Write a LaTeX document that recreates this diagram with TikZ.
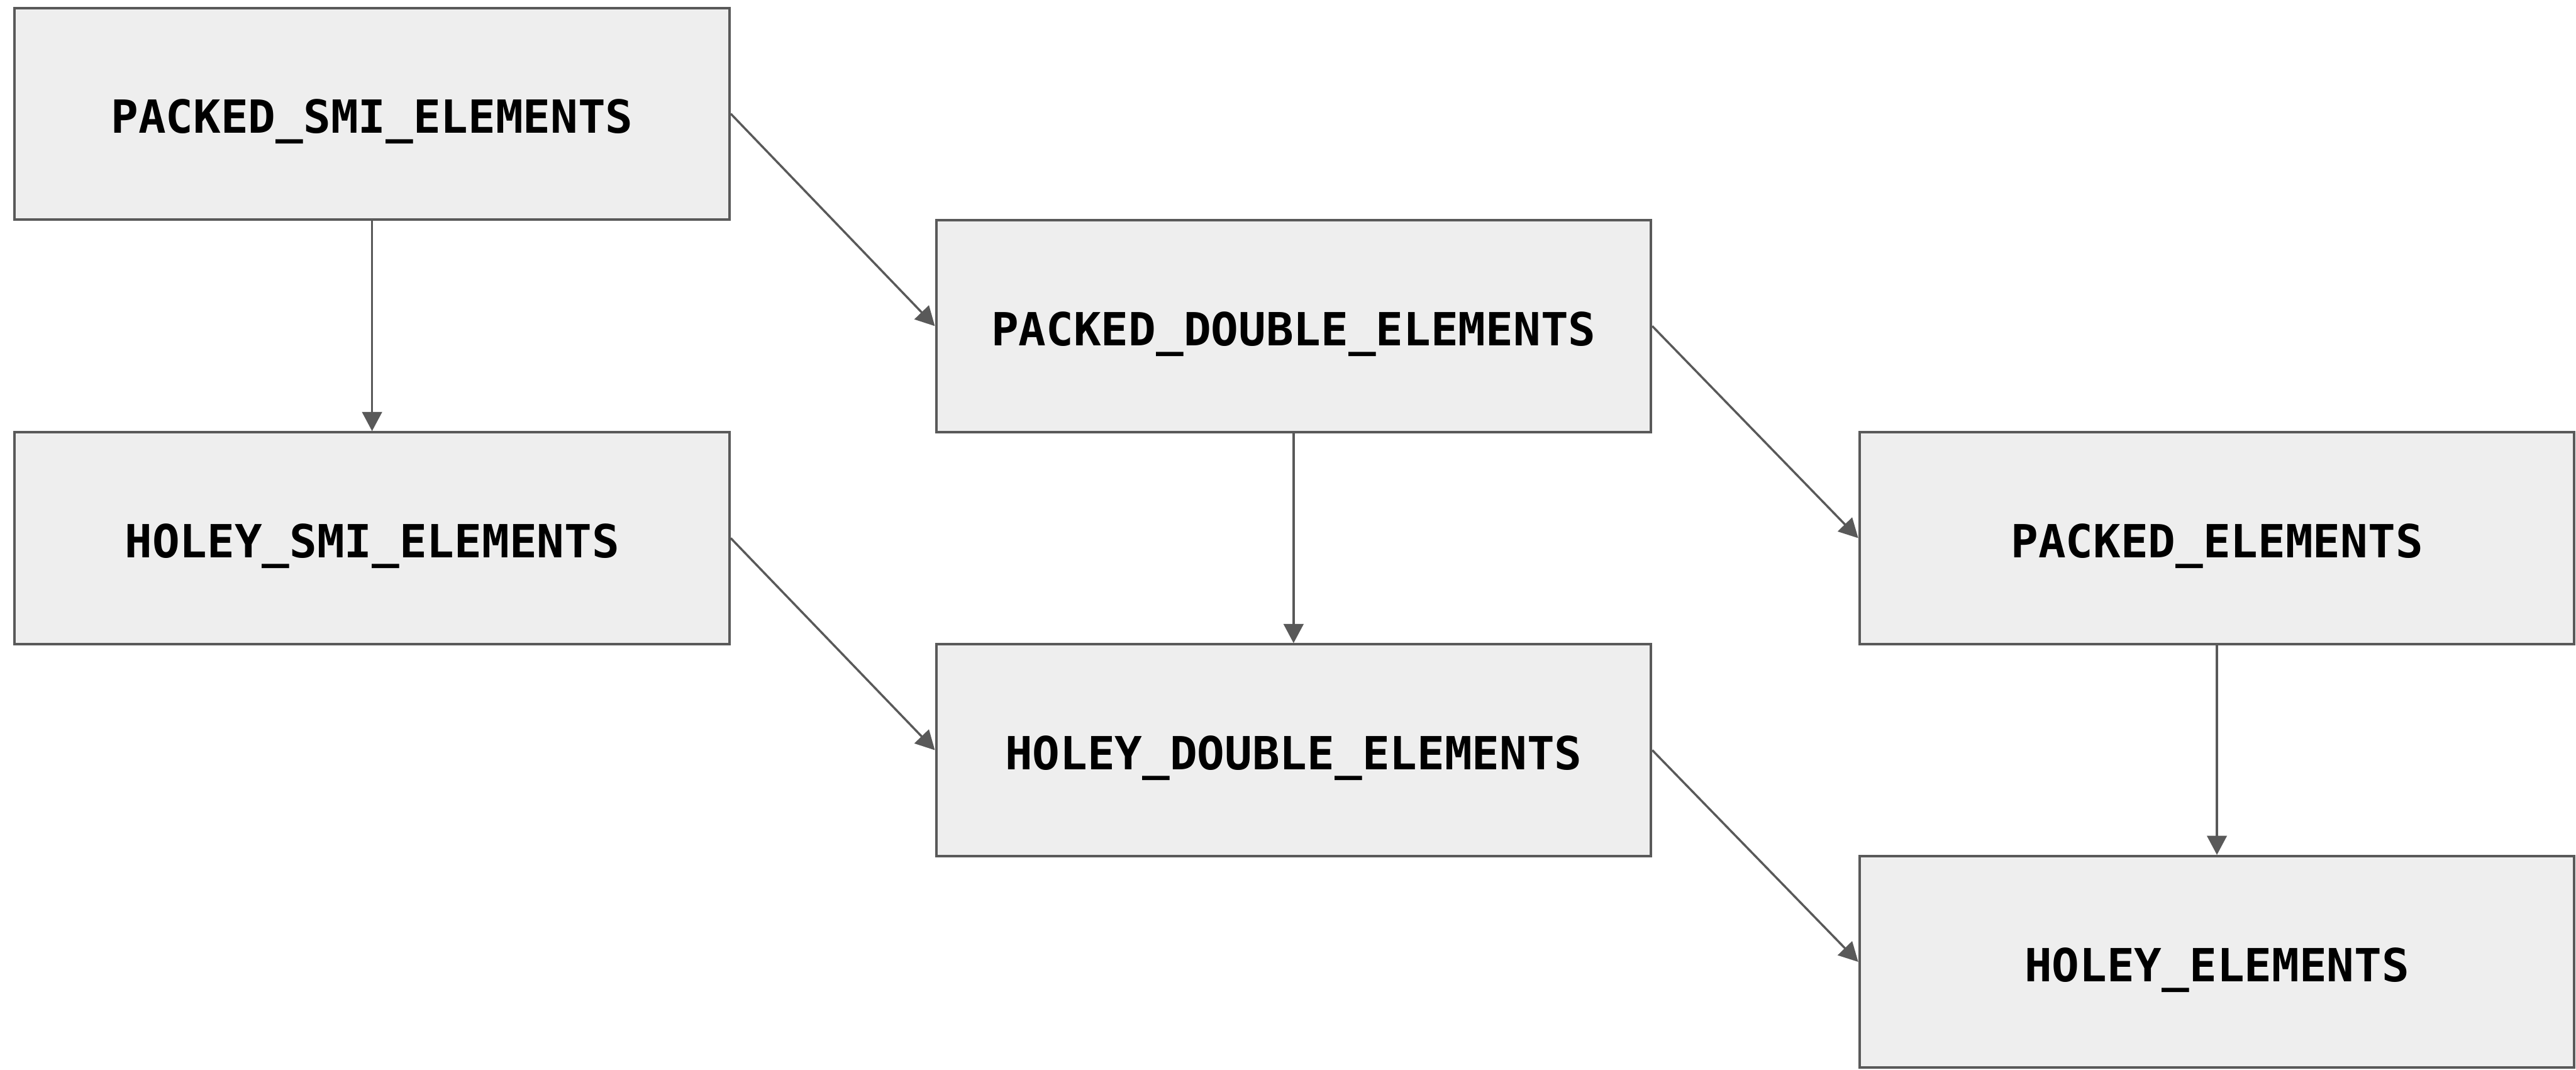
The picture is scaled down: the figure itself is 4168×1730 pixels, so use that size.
\documentclass[tikz,border=0pt]{standalone}
\usepackage{fontspec}
\newfontfamily\boxfont{DejaVu Sans Mono}
\usetikzlibrary{arrows.meta}
\definecolor{edge}{HTML}{595959}
\definecolor{boxfill}{HTML}{EEEEEE}
\tikzset{
  kind/.style={draw=edge, fill=boxfill, line width=1.15pt,
    minimum width=11.56cm, minimum height=3.42cm, inner sep=0pt,
    text height=0.63cm, text depth=0pt,
    font=\boxfont\bfseries\fontsize{21}{25}\selectfont, text=black},
  trans/.style={draw=edge, line width=1pt,
    -{Triangle[length=0.31cm, width=0.32cm]}}
}
\begin{document}
\begin{tikzpicture}[x=0.01cm, y=-0.01cm]
  \useasboundingbox (0,0) rectangle (4168,1730);
  % elements kinds lattice
  \node[kind] (psmi) at (602,184)    {PACKED\_SMI\_ELEMENTS};
  \node[kind] (pdbl) at (2093,527.5) {PACKED\_DOUBLE\_ELEMENTS};
  \node[kind] (hsmi) at (602,870.5)  {HOLEY\_SMI\_ELEMENTS};
  \node[kind] (hdbl) at (2093,1213.5){HOLEY\_DOUBLE\_ELEMENTS};
  \node[kind] (pk)   at (3587,870.5) {PACKED\_ELEMENTS};
  \node[kind] (hl)   at (3587,1556)  {HOLEY\_ELEMENTS};
  % transitions
  \draw[trans] (psmi.south) -- (hsmi.north);
  \draw[trans] (pdbl.south) -- (hdbl.north);
  \draw[trans] (pk.south)   -- (hl.north);
  \draw[trans] (psmi.east)  -- (pdbl.west);
  \draw[trans] (hsmi.east)  -- (hdbl.west);
  \draw[trans] (pdbl.east)  -- (pk.west);
  \draw[trans] (hdbl.east)  -- (hl.west);
\end{tikzpicture}
\end{document}
